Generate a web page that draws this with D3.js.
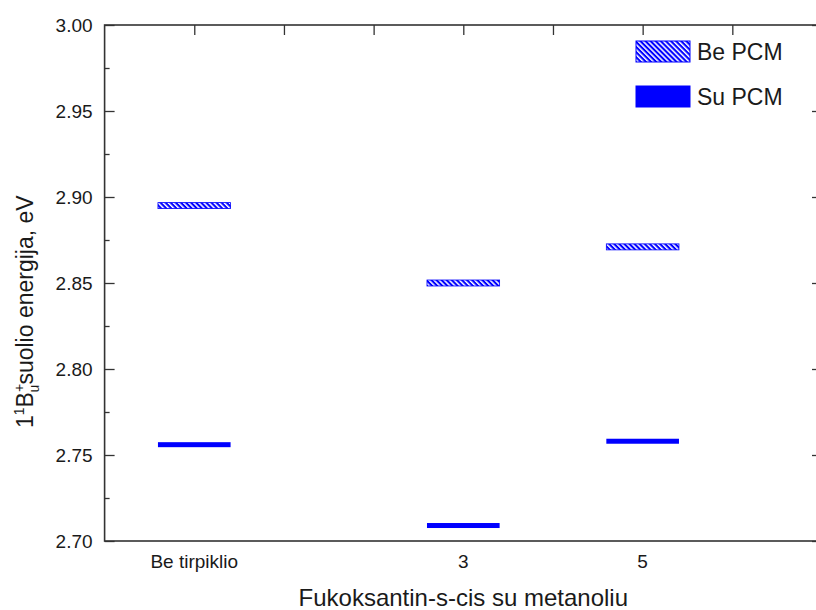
<!DOCTYPE html>
<html>
<head>
<meta charset="utf-8">
<script src="https://cdn.jsdelivr.net/npm/d3@7"></script>
<style>
  html, body { margin: 0; padding: 0; background: #fff; }
  svg { display: block; font-family: "Liberation Sans", Arial, sans-serif; }
</style>
</head>
<body>
<div id="chart"></div>
<script>
// ---- data ----
const categories = ["Be tirpiklio", "3", "5"];
const categoryX = [1, 4, 6];
const seriesNames = ["Be PCM", "Su PCM"];
const bePCM = [2.895, 2.850, 2.871];
const suPCM = [2.756, 2.709, 2.758];
const yTickValues = [2.70, 2.75, 2.80, 2.85, 2.90, 2.95, 3.00];
const topTickValues = [1, 2, 3, 4, 5, 6, 7];
const xTitle = "Fukoksantin-s-cis su metanoliu";

(function () {
// ---- layout ----
const W = 816, H = 610;
const mLeft = 104.6, mRight = 822, mTop = 25, mBottom = 541;
const blue = "#0000ff";
const axisColor = "#333";
const textColor = "#1a1a1a";

const svg = d3.select("#chart").append("svg")
  .attr("width", W).attr("height", H);

const x = d3.scaleLinear().domain([0, 8]).range([mLeft, mRight]);
const y = d3.scaleLinear().domain([2.70, 3.00]).range([mBottom, mTop]);

// hatch pattern
const defs = svg.append("defs");
const pat = defs.append("pattern")
  .attr("id", "hatch")
  .attr("patternUnits", "userSpaceOnUse")
  .attr("width", 3.6).attr("height", 3.6)
  .attr("patternTransform", "rotate(-45)");
pat.append("rect").attr("width", 3.6).attr("height", 3.6).attr("fill", blue);
pat.append("rect").attr("x", 0).attr("width", 1.5).attr("height", 3.6).attr("fill", "#fff");

// ---- bars (floating level bars) ----
const barW = x(0.81) - x(0);
const g = svg.append("g");
g.selectAll("rect.be").data(bePCM).join("rect")
  .attr("class", "be")
  .attr("x", (d, i) => x(categoryX[i]) - barW / 2)
  .attr("y", d => y(d) - 3)
  .attr("width", barW).attr("height", 6)
  .attr("fill", "url(#hatch)")
  .attr("stroke", blue).attr("stroke-width", 0.8);
g.selectAll("rect.su").data(suPCM).join("rect")
  .attr("class", "su")
  .attr("x", (d, i) => x(categoryX[i]) - barW / 2)
  .attr("y", d => y(d) - 2.5)
  .attr("width", barW).attr("height", 5)
  .attr("fill", blue);

// ---- axes ----
const yMinor = d3.range(2.725, 3.0, 0.05);
const leftAxis = d3.axisRight(y).tickValues(yTickValues).tickSize(10).tickFormat("");
const leftMinor = d3.axisRight(y).tickValues(yMinor).tickSize(5).tickFormat("");
const rightAxis = d3.axisLeft(y).tickValues(yTickValues).tickSize(10).tickFormat("");
const rightMinor = d3.axisLeft(y).tickValues(yMinor).tickSize(5).tickFormat("");
const topAxis = d3.axisBottom(x).tickValues(topTickValues).tickSize(10).tickFormat("");

function styleAxis(sel) {
  sel.select(".domain").remove();
  sel.selectAll("line").attr("stroke", axisColor).attr("stroke-width", 1.3);
}
svg.append("g").attr("transform", `translate(${mLeft},0)`).call(leftAxis).call(styleAxis);
svg.append("g").attr("transform", `translate(${mLeft},0)`).call(leftMinor).call(styleAxis);
svg.append("g").attr("transform", `translate(${mRight},0)`).call(rightAxis).call(styleAxis);
svg.append("g").attr("transform", `translate(${mRight},0)`).call(rightMinor).call(styleAxis);
svg.append("g").attr("transform", `translate(0,${mTop})`).call(topAxis).call(styleAxis);

// frame
svg.append("rect")
  .attr("x", mLeft).attr("y", mTop)
  .attr("width", mRight - mLeft).attr("height", mBottom - mTop)
  .attr("fill", "none").attr("stroke", axisColor).attr("stroke-width", 1.6);

// y tick labels
svg.append("g").selectAll("text").data(yTickValues).join("text")
  .attr("x", mLeft - 12).attr("y", d => y(d))
  .attr("dy", "0.35em")
  .attr("text-anchor", "end")
  .attr("font-size", 19).attr("fill", textColor)
  .text(d => d3.format(".2f")(d));

// x category labels
svg.append("g").selectAll("text").data(categories).join("text")
  .attr("x", (d, i) => x(categoryX[i])).attr("y", 568)
  .attr("text-anchor", "middle")
  .attr("font-size", 19).attr("fill", textColor)
  .text(d => d);

// x title
svg.append("text")
  .attr("x", (mLeft + mRight) / 2).attr("y", 606)
  .attr("text-anchor", "middle")
  .attr("font-size", 24).attr("fill", textColor)
  .text(xTitle);

// y title: 1^1B^+_u suolio energija, eV
const yt = svg.append("text")
  .attr("transform", "translate(33,428) rotate(-90)")
  .attr("text-anchor", "start")
  .attr("font-size", 23).attr("fill", textColor);
yt.append("tspan").text("1");
yt.append("tspan").attr("dy", -9).attr("font-size", 14).text("1");
yt.append("tspan").attr("dy", 9).text("B");
yt.append("tspan").attr("dy", -9).attr("font-size", 14).text("+");
yt.append("tspan").attr("dx", -8.5).attr("dy", 15).attr("font-size", 14).text("u");
yt.append("tspan").attr("dy", -6).text("suolio energija, eV");

// ---- legend ----
const legend = svg.append("g");
const legY = [41, 86];
legend.selectAll("rect").data(seriesNames).join("rect")
  .attr("x", 636).attr("y", (d, i) => legY[i])
  .attr("width", 54).attr("height", 21)
  .attr("fill", (d, i) => i === 0 ? "url(#hatch)" : blue)
  .attr("stroke", blue).attr("stroke-width", 1);
legend.selectAll("text").data(seriesNames).join("text")
  .attr("x", 697).attr("y", (d, i) => legY[i] + 19)
  .attr("font-size", 23).attr("fill", textColor)
  .text(d => d);
})();
</script>
</body>
</html>
